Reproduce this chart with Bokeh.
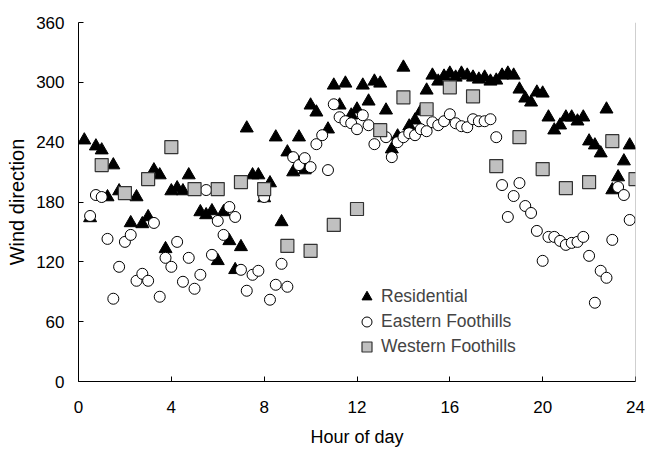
from bokeh.plotting import figure
from bokeh.models import ColumnDataSource, Legend, LegendItem, FixedTicker, Range1d, Span
from bokeh.embed import file_html
from bokeh.resources import INLINE

# Residential (triangles)
res_hour = [0.25, 0.5, 0.75, 1.0, 1.25, 1.5, 1.75, 2.0, 2.25, 2.5, 2.75, 3.0, 3.25, 3.5, 3.75,
            4.0, 4.25, 4.5, 4.75, 5.25, 5.5, 5.75, 6.0, 6.25, 6.5, 6.75, 7.0, 7.25, 7.5, 7.75,
            8.0, 8.25, 8.5, 8.75, 9.0, 9.25, 9.5, 9.75, 10.0, 10.25, 10.75, 11.0, 11.25, 11.5,
            11.75, 12.0, 12.25, 12.5, 12.75, 13.0, 13.25, 13.5, 13.75, 14.0, 14.25, 14.5, 14.75,
            15.0, 15.25, 15.5, 15.75, 16.0, 16.25, 16.5, 16.75, 17.0, 17.25, 17.5, 17.75, 18.0,
            18.25, 18.5, 18.75, 19.0, 19.25, 19.5, 19.75, 20.0, 20.25, 20.5, 20.75, 21.0, 21.25,
            21.5, 21.75, 22.0, 22.25, 22.5, 22.75, 23.0, 23.25, 23.5, 23.75]
res_dir = [242, 164, 236, 232, 185, 217, 191, 188, 159, 185, 158, 165, 212, 207, 133,
           191, 194, 191, 207, 170, 167, 171, 121, 170, 141, 112, 135, 254, 207, 207,
           184, 199, 245, 160, 230, 210, 245, 212, 277, 270, 253, 297, 277, 299,
           267, 273, 297, 281, 301, 299, 272, 233, 246, 315, 256, 262, 271,
           292, 307, 301, 306, 309, 305, 309, 307, 305, 303, 305, 301, 302,
           307, 309, 307, 293, 284, 280, 290, 289, 265, 252, 257, 265, 265,
           261, 265, 241, 237, 229, 273, 192, 205, 221, 237]

# Eastern Foothills (open circles)
east_hour = [0.5, 0.75, 1.0, 1.25, 1.5, 1.75, 2.0, 2.25, 2.5, 2.75, 3.0, 3.25, 3.5, 3.75,
             4.0, 4.25, 4.5, 4.75, 5.0, 5.25, 5.5, 5.75, 6.0, 6.25, 6.5, 6.75, 7.0, 7.25,
             7.5, 7.75, 8.0, 8.25, 8.5, 8.75, 9.0, 9.25, 9.5, 9.75, 10.0, 10.25, 10.5,
             10.75, 11.0, 11.25, 11.5, 11.75, 12.0, 12.25, 12.5, 12.75, 13.25, 13.5, 13.75,
             14.0, 14.25, 14.5, 14.75, 15.0, 15.25, 15.5, 15.75, 16.0, 16.25, 16.5, 16.75,
             17.0, 17.25, 17.5, 17.75, 18.0, 18.25, 18.5, 18.75, 19.0, 19.25, 19.5, 19.75,
             20.0, 20.25, 20.5, 20.75, 21.0, 21.25, 21.5, 21.75, 22.0, 22.25, 22.5, 22.75,
             23.0, 23.25, 23.5, 23.75]
east_dir = [166, 187, 185, 143, 83, 115, 140, 147, 101, 108, 101, 159, 85, 124,
            115, 140, 100, 124, 93, 107, 192, 127, 161, 147, 175, 165, 112, 91,
            107, 111, 185, 82, 97, 118, 95, 225, 217, 224, 215, 238, 247,
            212, 278, 265, 261, 259, 253, 267, 257, 238, 245, 225, 240,
            245, 249, 247, 253, 251, 260, 257, 261, 268, 259, 256, 255,
            263, 261, 261, 263, 245, 197, 165, 186, 199, 176, 169, 151,
            121, 145, 145, 141, 137, 139, 140, 145, 126, 79, 111, 104,
            142, 195, 187, 162]

# Western Foothills (grey squares)
west_hour = [1, 2, 3, 4, 5, 6, 7, 8, 9, 10, 11, 12, 13, 14, 15, 16, 17, 18, 19, 20, 21, 22, 23, 24]
west_dir = [217, 189, 203, 235, 193, 193, 200, 193, 136, 131, 157, 173, 252, 285, 273, 295,
            286, 216, 245, 213, 194, 200, 241, 203]

x_ticks = [0, 4, 8, 12, 16, 20, 24]
y_ticks = [0, 60, 120, 180, 240, 300, 360]

FONT = "Liberation Sans"

p = figure(width=647, height=449, output_backend="svg", toolbar_location=None,
           x_range=Range1d(0, 24), y_range=Range1d(0, 360),
           min_border_left=78, min_border_right=12, min_border_top=22, min_border_bottom=67)
p.outline_line_color = None
p.xgrid.visible = False
p.ygrid.visible = False
p.background_fill_color = "white"
p.border_fill_color = "white"

for ax in (p.xaxis[0], p.yaxis[0]):
    ax.axis_line_color = "black"
    ax.axis_line_width = 1
    ax.major_tick_in = 5
    ax.major_tick_out = 0
    ax.minor_tick_line_color = None
    ax.major_tick_line_color = "black"
    ax.major_label_text_font = FONT
    ax.major_label_text_font_size = "17px"
    ax.major_label_text_color = "black"
    ax.axis_label_text_font = FONT
    ax.axis_label_text_font_style = "normal"
    ax.axis_label_text_color = "black"

p.xaxis.axis_label_text_font_size = "18px"
p.yaxis.axis_label_text_font_size = "20px"
p.xaxis.ticker = FixedTicker(ticks=x_ticks)
p.yaxis.ticker = FixedTicker(ticks=y_ticks)
p.xaxis.axis_label = "Hour of day"
p.yaxis.axis_label = "Wind direction"
p.xaxis.major_label_standoff = 19
p.yaxis.major_label_standoff = 14
p.xaxis.axis_label_standoff = 11
p.yaxis.axis_label_standoff = 5

p.add_layout(Span(location=24, dimension="height", line_color="#a0a0a0", line_width=1))

src_r = ColumnDataSource(dict(x=res_hour, y=res_dir))
src_e = ColumnDataSource(dict(x=east_hour, y=east_dir))
src_w = ColumnDataSource(dict(x=west_hour, y=west_dir))

r1 = p.scatter("x", "y", source=src_r, marker="triangle", size=13,
               fill_color="black", line_color="black")
r2 = p.scatter("x", "y", source=src_e, marker="circle", size=11,
               fill_color="white", line_color="black", line_width=1)
r3 = p.scatter("x", "y", source=src_w, marker="square", size=13,
               fill_color="#c0c0c0", line_color="#333333", line_width=1.2)

legend = Legend(items=[LegendItem(label="Residential", renderers=[r1]),
                       LegendItem(label="Eastern Foothills", renderers=[r2]),
                       LegendItem(label="Western Foothills", renderers=[r3])],
                location=(276, 22), padding=0, margin=0, spacing=0,
                glyph_width=25, glyph_height=25, label_standoff=2,
                label_text_font=FONT, label_text_font_size="17.5px",
                background_fill_alpha=0, border_line_color=None)
p.add_layout(legend, "center")

open("out.html", "w").write(file_html(p, INLINE))
